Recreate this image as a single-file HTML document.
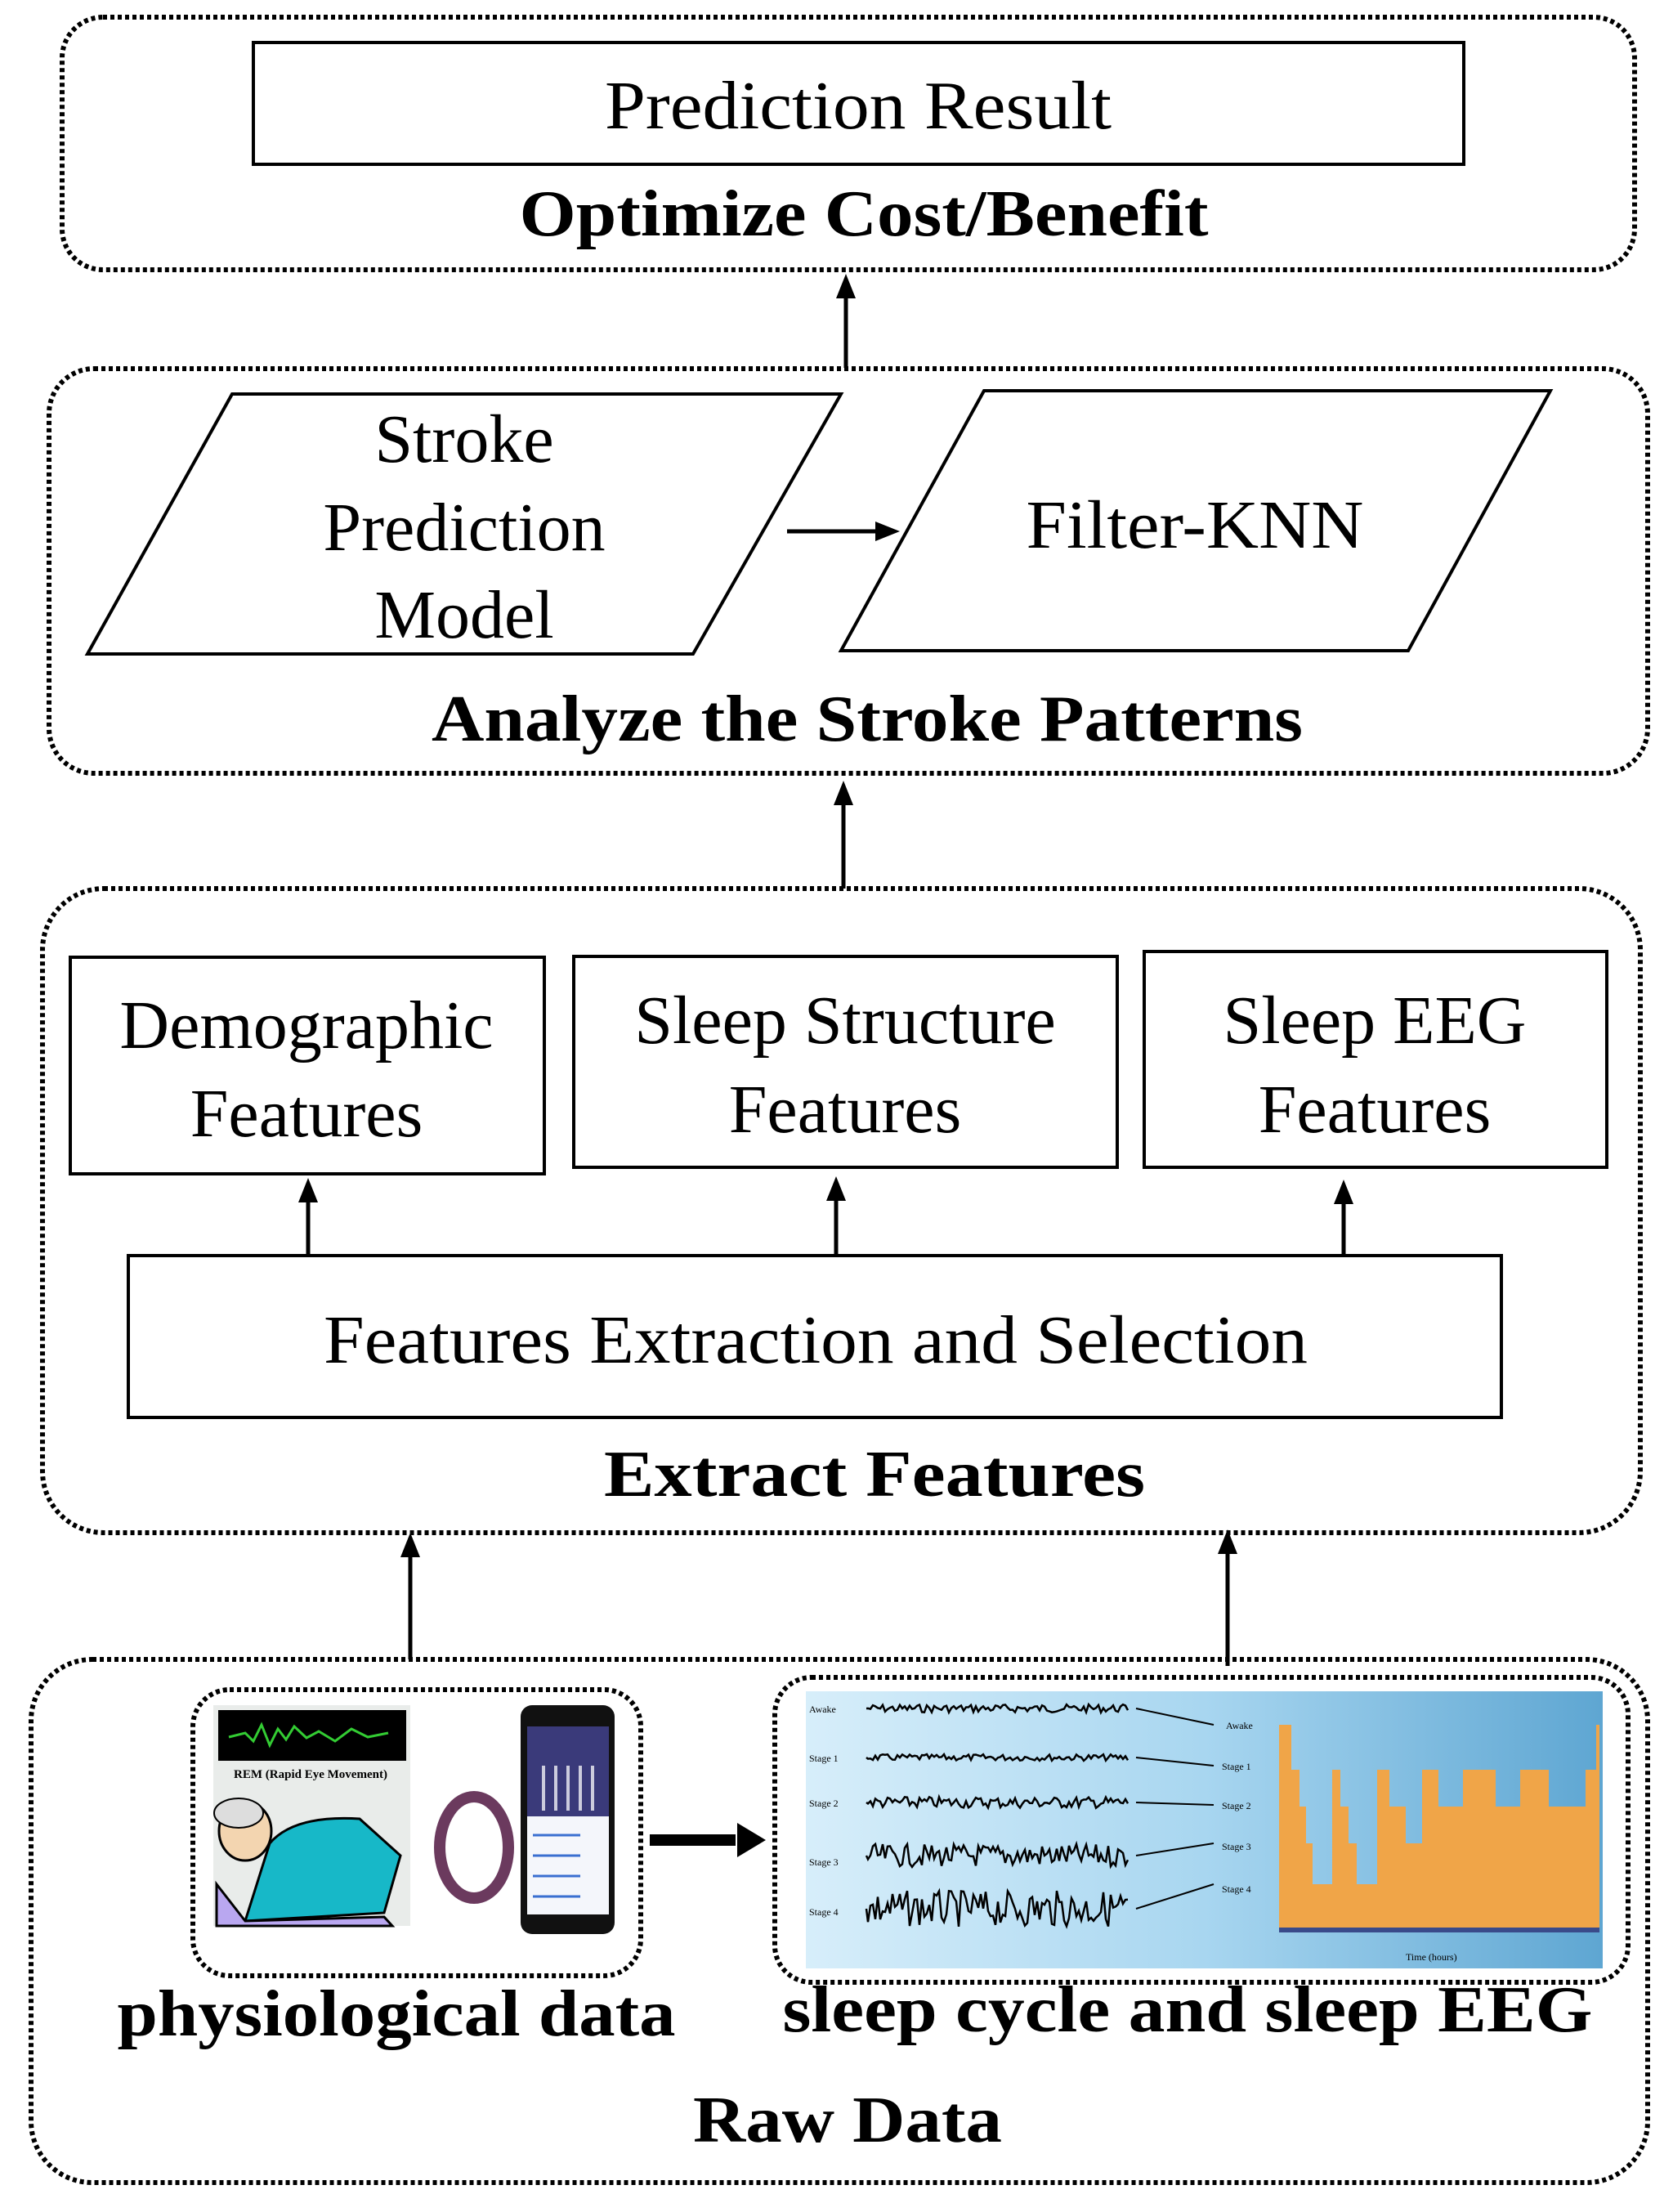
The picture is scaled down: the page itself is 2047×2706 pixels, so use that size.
<!DOCTYPE html>
<html><head><meta charset="utf-8"><style>
html,body{margin:0;padding:0;background:#fff;}
svg{display:block;}
text{font-family:"Liberation Serif",serif;fill:#000;}
</style></head><body>
<svg id="s" width="2047" height="2706" viewBox="0 0 2047 2706" xmlns="http://www.w3.org/2000/svg">
<defs>
<marker id="ah" markerWidth="10" markerHeight="10" refX="5" refY="5" orient="auto" markerUnits="userSpaceOnUse">
</marker>
<linearGradient id="bg" x1="0" x2="1" y1="0" y2="0">
<stop offset="0" stop-color="#d7eefa"/><stop offset="0.5" stop-color="#a8d6f0"/><stop offset="1" stop-color="#5ea6d2"/>
</linearGradient>
</defs>
<g fill="none" stroke="#000" stroke-width="6" stroke-dasharray="5 4">
<rect x="76" y="21" width="1924" height="309" rx="50"/>
<rect x="60" y="451" width="1956" height="495" rx="55"/>
<rect x="52" y="1087" width="1955" height="788" rx="75"/>
<rect x="38" y="2030" width="1978" height="640" rx="75"/>
<rect x="236" y="2067" width="548" height="350" rx="45"/>
<rect x="948" y="2052" width="1044" height="373" rx="45"/>
</g>
<g fill="#fff" stroke="#000" stroke-width="4">
<rect x="310" y="52" width="1481" height="149"/>
<polygon points="107,800 284,482 1029,482 848,800"/>
<polygon points="1029,796 1204,478 1897,478 1723,796"/>
<rect x="86" y="1171" width="580" height="265"/>
<rect x="702" y="1170" width="665" height="258"/>
<rect x="1400" y="1164" width="566" height="264"/>
<rect x="157" y="1536" width="1680" height="198"/>
</g>
<g stroke="#000" stroke-width="5">
<line x1="1035" y1="450" x2="1035" y2="362"/>
<line x1="1032" y1="1087" x2="1032" y2="982"/>
<line x1="377" y1="1536" x2="377" y2="1468"/>
<line x1="1023" y1="1536" x2="1023" y2="1466"/>
<line x1="1644" y1="1536" x2="1644" y2="1470"/>
<line x1="502" y1="2030" x2="502" y2="1902"/>
<line x1="1502" y1="2038" x2="1502" y2="1898"/>
<line x1="963" y1="650" x2="1075" y2="650"/>
<line x1="795" y1="2251" x2="900" y2="2251" stroke-width="14"/>
</g>
<g fill="#000">
<polygon points="1035,335 1023,365 1047,365"/>
<polygon points="1032,955 1020,985 1044,985"/>
<polygon points="377,1441 365,1471 389,1471"/>
<polygon points="1023,1439 1011,1469 1035,1469"/>
<polygon points="1644,1443 1632,1473 1656,1473"/>
<polygon points="502,1875 490,1905 514,1905"/>
<polygon points="1502,1871 1490,1901 1514,1901"/>
<polygon points="1101,650 1071,638 1071,662"/>
<polygon points="937,2251 902,2230 902,2272"/>
</g>
<g font-size="84" text-anchor="middle">
<text x="1050" y="157" textLength="620" lengthAdjust="spacingAndGlyphs">Prediction Result</text>
<text x="568" y="565">Stroke</text>
<text x="568" y="673">Prediction</text>
<text x="568" y="780">Model</text>
<text x="1462" y="670" textLength="413" lengthAdjust="spacingAndGlyphs">Filter-KNN</text>
<text x="375" y="1282">Demographic</text>
<text x="375" y="1390">Features</text>
<text x="1034" y="1276">Sleep Structure</text>
<text x="1034" y="1385">Features</text>
<text x="1682" y="1276">Sleep EEG</text>
<text x="1682" y="1385">Features</text>
<text x="998" y="1667" textLength="1204" lengthAdjust="spacingAndGlyphs">Features Extraction and Selection</text>
</g>
<g font-size="80" font-weight="bold" text-anchor="middle">
<text x="1057" y="288" textLength="843" lengthAdjust="spacingAndGlyphs">Optimize Cost/Benefit</text>
<text x="1061" y="906" textLength="1066" lengthAdjust="spacingAndGlyphs">Analyze the Stroke Patterns</text>
<text x="1070" y="1830" textLength="662" lengthAdjust="spacingAndGlyphs">Extract  Features</text>
<text x="485" y="2490" textLength="683" lengthAdjust="spacingAndGlyphs">physiological data</text>
<text x="1453" y="2485" textLength="991" lengthAdjust="spacingAndGlyphs">sleep cycle and sleep EEG</text>
<text x="1037" y="2620" textLength="378" lengthAdjust="spacingAndGlyphs">Raw Data</text>
</g>
<!-- REM image -->
<rect x="261" y="2086" width="241" height="270" fill="#e9ecea"/>
<rect x="267" y="2092" width="230" height="62" fill="#000"/>
<polyline points="280,2125 300,2120 310,2130 320,2110 330,2135 340,2115 350,2128 360,2112 375,2126 390,2118 410,2130 430,2115 450,2125 475,2120" fill="none" stroke="#3c3" stroke-width="3"/>
<text x="380" y="2175" font-size="15" fill="#2a8a9a" text-anchor="middle" font-weight="bold">REM (Rapid Eye Movement)</text>
<path d="M330,2255 Q360,2220 440,2225 L490,2270 L470,2340 L300,2350 Z" fill="#17b8c8" stroke="#000" stroke-width="3"/>
<path d="M265,2305 L300,2350 L470,2345 L480,2356 L265,2356 Z" fill="#b9a7f0" stroke="#000" stroke-width="3"/>
<ellipse cx="300" cy="2240" rx="32" ry="36" fill="#f3d5b0" stroke="#000" stroke-width="3"/>
<ellipse cx="292" cy="2218" rx="30" ry="18" fill="#ddd" stroke="#000" stroke-width="2"/>
<!-- band & phone -->
<rect x="513" y="2081" width="239" height="284" fill="#fff"/>
<ellipse cx="580" cy="2260" rx="42" ry="62" fill="none" stroke="#6b3a5e" stroke-width="14"/>
<rect x="637" y="2086" width="115" height="280" rx="14" fill="#111"/>
<rect x="645" y="2112" width="100" height="110" fill="#3a3a7a"/>
<rect x="645" y="2222" width="100" height="120" fill="#f4f6fb"/>
<g stroke="#3a6fd0" stroke-width="3"><line x1="652" y1="2245" x2="710" y2="2245"/><line x1="652" y1="2270" x2="710" y2="2270"/><line x1="652" y1="2295" x2="710" y2="2295"/><line x1="652" y1="2320" x2="710" y2="2320"/></g>
<g stroke="#ccd" stroke-width="4"><line x1="665" y1="2160" x2="665" y2="2215"/><line x1="680" y1="2160" x2="680" y2="2215"/><line x1="695" y1="2160" x2="695" y2="2215"/><line x1="710" y1="2160" x2="710" y2="2215"/><line x1="725" y1="2160" x2="725" y2="2215"/></g>
<!-- EEG image -->
<rect x="986" y="2069" width="975" height="339" fill="url(#bg)"/>
<g id="eeg" fill="none" stroke="#000" stroke-width="2.5"></g>
<g font-size="12" fill="#333">
<text x="990" y="2095">Awake</text><text x="990" y="2155">Stage 1</text><text x="990" y="2210">Stage 2</text><text x="990" y="2282">Stage 3</text><text x="990" y="2343">Stage 4</text>
<text x="1500" y="2115">Awake</text><text x="1495" y="2165">Stage 1</text><text x="1495" y="2213">Stage 2</text><text x="1495" y="2263">Stage 3</text><text x="1495" y="2315">Stage 4</text>
<text x="1720" y="2398">Time (hours)</text>
</g>
<g stroke="#000" stroke-width="2"><line x1="1390" y1="2090" x2="1485" y2="2110"/><line x1="1390" y1="2150" x2="1485" y2="2160"/><line x1="1390" y1="2205" x2="1485" y2="2208"/><line x1="1390" y1="2270" x2="1485" y2="2255"/><line x1="1390" y1="2335" x2="1485" y2="2305"/></g>
<path d="M1565,2360 L1565,2110 L1580,2110 L1580,2165 L1590,2165 L1590,2210 L1598,2210 L1598,2255 L1606,2255 L1606,2305 L1630,2305 L1630,2165 L1640,2165 L1640,2210 L1650,2210 L1650,2255 L1660,2255 L1660,2305 L1685,2305 L1685,2165 L1700,2165 L1700,2210 L1720,2210 L1720,2255 L1740,2255 L1740,2165 L1760,2165 L1760,2210 L1790,2210 L1790,2165 L1830,2165 L1830,2210 L1860,2210 L1860,2165 L1895,2165 L1895,2210 L1940,2210 L1940,2165 L1953,2165 L1953,2110 L1957,2110 L1957,2360 Z" fill="#f0a548"/>
<rect x="1565" y="2358" width="392" height="6" fill="#3a4a8a"/>
<script>
(function(){var g=document.getElementById('eeg');var ys=[2090,2150,2205,2270,2335],amp=[5,4,7,14,22];var seed=7;function r(){seed=(seed*9301+49297)%233280;return seed/233280-0.5;}
for(var i=0;i<5;i++){var d='M1060,'+ys[i];for(var x=1062;x<=1380;x+=3){d+=' L'+x+','+(ys[i]+r()*2*amp[i]).toFixed(1);}var p=document.createElementNS('http://www.w3.org/2000/svg','path');p.setAttribute('d',d);g.appendChild(p);}})();
</script>
</svg>
</body></html>
